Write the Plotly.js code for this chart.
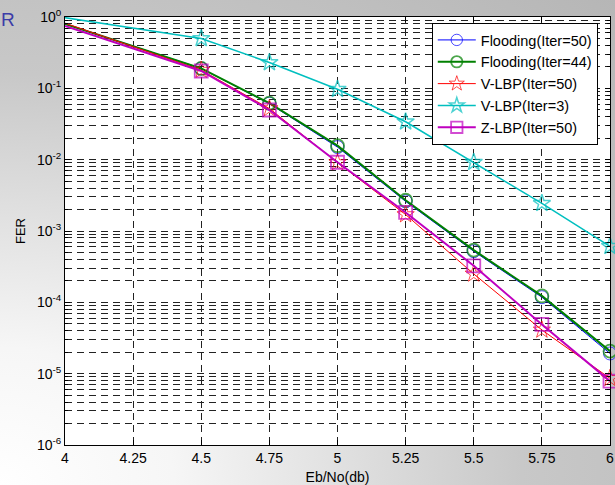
<!DOCTYPE html>
<html>
<head>
<meta charset="utf-8">
<script src="https://cdn.plot.ly/plotly-3.0.1.min.js"></script>
<style>
html,body{margin:0;padding:0;width:615px;height:485px;overflow:hidden;}
body{background:radial-gradient(farthest-corner at 0% 100%,#ffffff 0%,#f6f6f6 20%,#e2e2e2 38%,#c8c8c8 60%,#b6b6b6 100%);}
#chart{width:615px;height:485px;}
</style>
</head>
<body>
<div id="chart"></div>
<script>
// Eb/No (dB)
const ebno = [4, 4.5, 4.75, 5, 5.25, 5.5, 5.75, 6];
// FER values
const flooding50 = [0.80, 0.19, 0.061, 0.0150, 0.0026, 0.00052, 0.000118, 0.0000192];
const flooding44 = [0.80, 0.19, 0.062, 0.0157, 0.0027, 0.00054, 0.000123, 0.0000207];
const vlbp50     = [0.82, 0.18, 0.052, 0.0091, 0.0017, 0.00025, 0.000041, 0.0000086];
const vlbp3      = [0.98, 0.50, 0.23, 0.097, 0.034, 0.0092, 0.00244, 0.00061];
const zlbp50     = [0.75, 0.175, 0.0497, 0.0092, 0.00182, 0.000325, 0.000049, 0.00000785];
const seriesNames = ['Flooding(Iter=50)', 'Flooding(Iter=44)', 'V-LBP(Iter=50)', 'V-LBP(Iter=3)', 'Z-LBP(Iter=50)'];
const yTickVals = [1e-6, 1e-5, 1e-4, 1e-3, 1e-2, 1e-1, 1];
const yTickText = ['10<sup>-6</sup>', '10<sup>-5</sup>', '10<sup>-4</sup>', '10<sup>-3</sup>', '10<sup>-2</sup>', '10<sup>-1</sup>', '10<sup>0</sup>'];

const markerSizes = ebno.map((v, i) => i === 0 ? 0 : 13);

function tr(y, name, color, symbol, lw, mw) {
  return {
    x: ebno, y: y, name: name, type: 'scatter', mode: 'lines+markers',
    line: {color: color, width: lw},
    marker: {symbol: symbol, size: markerSizes, color: color, line: {color: color, width: mw}},
    cliponaxis: false
  };
}

const data = [
  tr(flooding50, seriesNames[0], '#0000ff', 'circle-open', 1, 1),
  tr(flooding44, seriesNames[1], '#008000', 'circle-open', 2, 1.8),
  tr(vlbp50, seriesNames[2], '#ff0000', 'star-open', 1, 1),
  tr(vlbp3, seriesNames[3], '#00bfbf', 'star-open', 1.5, 1.5),
  tr(zlbp50, seriesNames[4], '#bf00bf', 'square-open', 2, 1.8)
];

const gridDash = '7px,5px';
const FONT = 'Liberation Sans, Arial, sans-serif';
const layout = {
  width: 615, height: 485,
  margin: {l: 65, r: 5, t: 17, b: 40},
  paper_bgcolor: 'rgba(0,0,0,0)',
  plot_bgcolor: '#ffffff',
  font: {family: FONT, size: 14, color: '#000'},
  showlegend: true,
  legend: {
    x: 0.673, y: 0.986, xanchor: 'left', yanchor: 'top',
    bgcolor: '#ffffff', bordercolor: '#000', borderwidth: 1,
    font: {family: FONT, size: 14.5, color: '#000'},
    itemwidth: 38,
    tracegroupgap: 0
  },
  xaxis: {
    range: [4, 6], tickmode: 'linear', tick0: 4, dtick: 0.25,
    ticks: 'inside', ticklen: 5, tickcolor: '#000',
    showline: true, linecolor: '#000', linewidth: 1, mirror: 'ticks',
    showgrid: true, gridcolor: '#222', griddash: gridDash, gridwidth: 1,
    zeroline: false,
    tickfont: {size: 14},
    title: {text: 'Eb/No(db)', font: {size: 14}, standoff: 7}
  },
  yaxis: {
    type: 'log', range: [-6, 0],
    tickmode: 'array', tickvals: yTickVals, ticktext: yTickText,
    ticks: 'inside', ticklen: 5, tickcolor: '#000',
    showline: true, linecolor: '#000', linewidth: 1, mirror: 'ticks',
    showgrid: true, gridcolor: '#222', griddash: gridDash, gridwidth: 1,
    zeroline: false,
    tickfont: {size: 14},
    minor: {tickmode: 'linear', dtick: 'D1', ticks: 'inside', ticklen: 3, tickcolor: '#000',
            showgrid: true, gridcolor: '#222', griddash: gridDash, gridwidth: 1},
    title: {text: 'FER', font: {size: 13}, standoff: 8}
  },
  annotations: [{
    text: 'R', xref: 'paper', yref: 'paper', x: -0.122, y: 0.995,
    xanchor: 'left', yanchor: 'middle', showarrow: false,
    font: {family: FONT, size: 19, color: '#3c3ca8'}
  }]
};

Plotly.newPlot('chart', data, layout, {displayModeBar: false, staticPlot: true});
</script>
</body>
</html>
